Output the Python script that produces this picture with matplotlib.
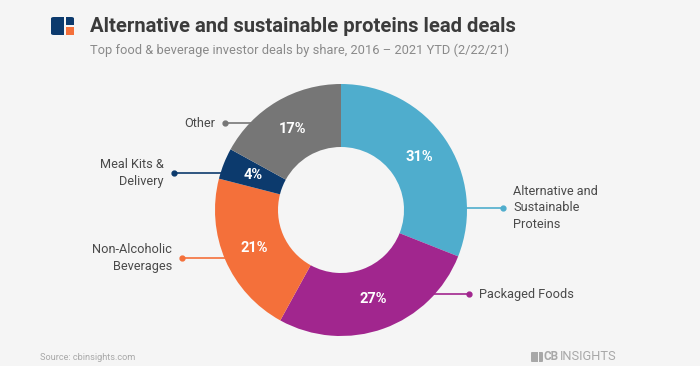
import numpy as np
import matplotlib.pyplot as plt
from matplotlib.patches import FancyBboxPatch, Rectangle

# data
categories = ["Alternative and\nSustainable\nProteins", "Packaged Foods",
              "Non-Alcoholic\nBeverages", "Meal Kits &\nDelivery", "Other"]
shares = [31, 27, 21, 4, 17]
colors = ["#4FADCD", "#A1268E", "#F4703A", "#0C3A6D", "#767676"]

# label dot positions (layout, in pie radius units)
dot_pos = [(1.286, 0.016), (1.016, -0.667), (-1.262, -0.381), (-1.325, 0.294), (-0.921, 0.690)]

bg = "#F5F5F5"
W, H = 700, 366
fig = plt.figure(figsize=(7, 3.66), dpi=100, facecolor=bg)

# header
fig.text(90 / W, 1 - 27 / H, "Alternative and sustainable proteins lead deals",
         fontsize=14.6, fontweight="bold", family="Roboto", color="#3b3b3b",
         va="center", ha="left")
fig.text(90 / W, 1 - 50 / H, "Top food & beverage investor deals by share, 2016 \u2013 2021 YTD (2/22/21)",
         fontsize=9.3, family="Roboto", color="#8a8a8a", va="center", ha="left")

# small logo
fig.patches.append(FancyBboxPatch((51 / W, 1 - 35 / H), 23 / W, 18 / H,
                                  boxstyle="round,pad=0,rounding_size=0.004",
                                  transform=fig.transFigure, fc="#0C3A6D", ec="none"))
fig.patches.append(Rectangle((64 / W, 1 - 35 / H), 1.5 / W, 18 / H,
                             transform=fig.transFigure, fc=bg, ec="none"))
fig.patches.append(Rectangle((65.5 / W, 1 - 26.5 / H), 9 / W, 1.5 / H,
                             transform=fig.transFigure, fc=bg, ec="none"))
fig.patches.append(Rectangle((65.5 / W, 1 - 35 / H), 8.5 / W, 8.5 / H,
                             transform=fig.transFigure, fc="#F4703A", ec="none"))

# donut
ax = fig.add_axes([215 / W, 30 / H, 252 / W, 252 / H])
ax.set_facecolor(bg)
wedges, _, autotexts = ax.pie(shares, colors=colors, startangle=90, counterclock=False,
                              radius=1, wedgeprops=dict(width=0.5, edgecolor="none"),
                              autopct="%d%%", pctdistance=0.75)
for t in autotexts:
    t.set_color("white")
    t.set_fontweight("bold")
    t.set_fontsize(10.5)
    t.set_family("Roboto")
ax.set_xlim(-1, 1)
ax.set_ylim(-1, 1)
ax.axis("off")

for name, col, (dx, dy) in zip(categories, colors, dot_pos):
    side = 1 if dx > 0 else -1
    x0 = side * np.sqrt(1 - dy ** 2) * 0.99
    ax.plot([x0, dx], [dy, dy], color=col, lw=1.2, clip_on=False, solid_capstyle="butt")
    ax.plot([dx], [dy], "o", color=col, ms=3.5, clip_on=False)
    ax.text(dx + side * 0.08, dy, name, ha="left" if side > 0 else "right", va="center",
            fontsize=9.2, family="Roboto", color="#4a4a4a", linespacing=1.35, clip_on=False)

# footer
fig.text(40 / W, 1 - 357 / H, "Source: cbinsights.com", fontsize=6.6, family="Roboto",
         color="#a8a8a8", va="center", ha="left")
fig.patches.append(FancyBboxPatch((531 / W, 1 - 362 / H), 12 / W, 10 / H,
                                  boxstyle="round,pad=0,rounding_size=0.002",
                                  transform=fig.transFigure, fc="#a8a8a8", ec="none"))
fig.patches.append(Rectangle((537.5 / W, 1 - 362 / H), 1 / W, 10 / H,
                             transform=fig.transFigure, fc=bg, ec="none"))
fig.text(544 / W, 1 - 357 / H, "CB", fontsize=8.5, fontweight="bold", family="Roboto",
         color="#a8a8a8", va="center", ha="left")
fig.text(560 / W, 1 - 357 / H, "INSIGHTS", fontsize=9.3, family="Roboto",
         color="#a8a8a8", va="center", ha="left")

fig.savefig("out.png", dpi=100, facecolor=bg)
